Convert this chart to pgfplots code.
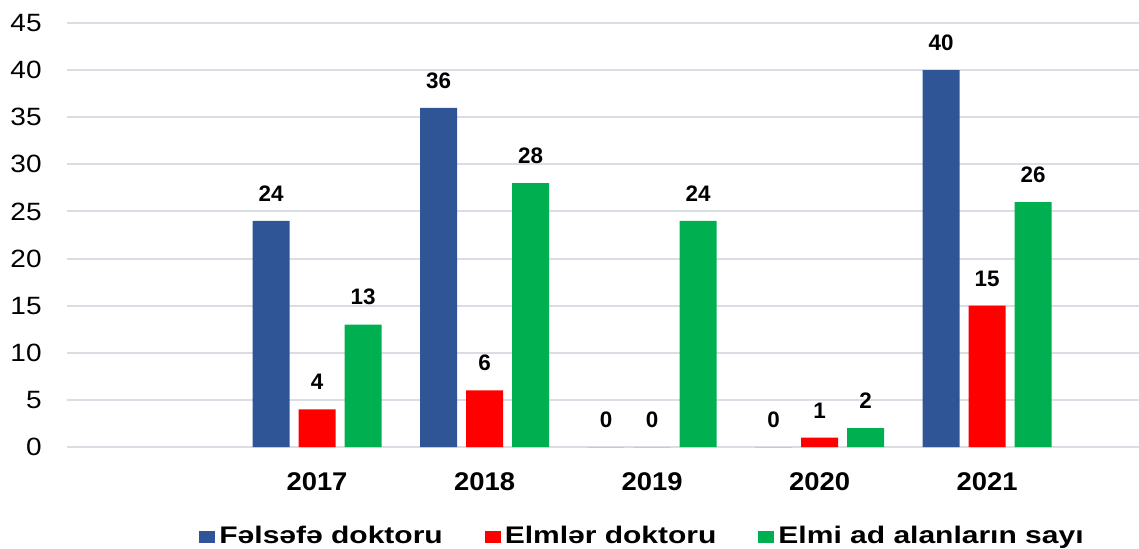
\documentclass[border=0pt]{standalone}
\usepackage{fontspec}
\setmainfont{Liberation Sans}
\newfontfamily\tickfont{Liberation Sans}[FakeStretch=1.12]
\newfontfamily\xfont{Liberation Sans}[FakeStretch=1.07]
\newfontfamily\lblfont{Liberation Sans}
\newfontfamily\legfont{Liberation Sans}[FakeStretch=1.25]
\usepackage{pgfplots}
\usepackage{pgfplotstable}
\pgfplotsset{compat=1.18}
\definecolor{cblue}{RGB}{47,85,151}
\definecolor{cred}{RGB}{255,0,0}
\definecolor{cgreen}{RGB}{0,176,80}
\definecolor{cgrid}{RGB}{217,221,228}
\pgfplotstableread{
x year blue red green
1 2017 24 4 13
2 2018 36 6 28
3 2019 0 0 24
4 2020 0 1 2
5 2021 40 15 26
}\datatable
\begin{document}
\begin{tikzpicture}
\begin{axis}[
  scale only axis,
  width=536pt, height=212pt,
  at={(0,0)}, anchor=south west,
  xmin=-0.4925, xmax=5.907,
  ymin=0, ymax=45,
  axis line style={draw=none},
  major tick length=0pt,
  ytick={0,5,...,45},
  ymajorgrids,
  grid style={cgrid, line width=1pt},
  xtick={1,2,3,4,5},
  xticklabels={2017,2018,2019,2020,2021},
  xticklabel style={font=\xfont\bfseries\fontsize{12.8}{15}\selectfont, anchor=base, inner sep=0pt, yshift=-21.5pt},
  yticklabel style={font=\tickfont\fontsize{12.5}{15}\selectfont, anchor=east, inner sep=0pt, xshift=-12.5pt},
  /pgf/number format/assume math mode=true,
  bar width=0.221,
  nodes near coords,
  every node near coord/.append style={font=\lblfont\bfseries\fontsize{11.2}{13}\selectfont, text=black, anchor=south, inner sep=0pt, yshift=9.5pt},
  legend columns=3,
  legend style={at={(0.5378,-0.211)}, anchor=center, draw=none, fill=none,
    font=\legfont\bfseries\fontsize{12}{14}\selectfont,
    /tikz/every even column/.append style={column sep=19pt}},
  legend image code/.code={\fill[#1] (0pt,-3.2pt) rectangle (8pt,2.8pt);},
]
\addplot[ybar, bar shift=0, fill=cblue, draw=none] table[x expr=\thisrow{x}-0.2746, y=blue] {\datatable};
\addplot[ybar, bar shift=0, fill=cred, draw=none] table[x=x, y=red] {\datatable};
\addplot[ybar, bar shift=0, fill=cgreen, draw=none] table[x expr=\thisrow{x}+0.2746, y=green] {\datatable};
\legend{Fəlsəfə doktoru, Elmlər doktoru, Elmi ad alanların sayı}
\end{axis}
\pgfresetboundingbox
\path (-33.5pt,-50.5pt) rectangle (536pt,223.5pt);
\end{tikzpicture}
\end{document}
